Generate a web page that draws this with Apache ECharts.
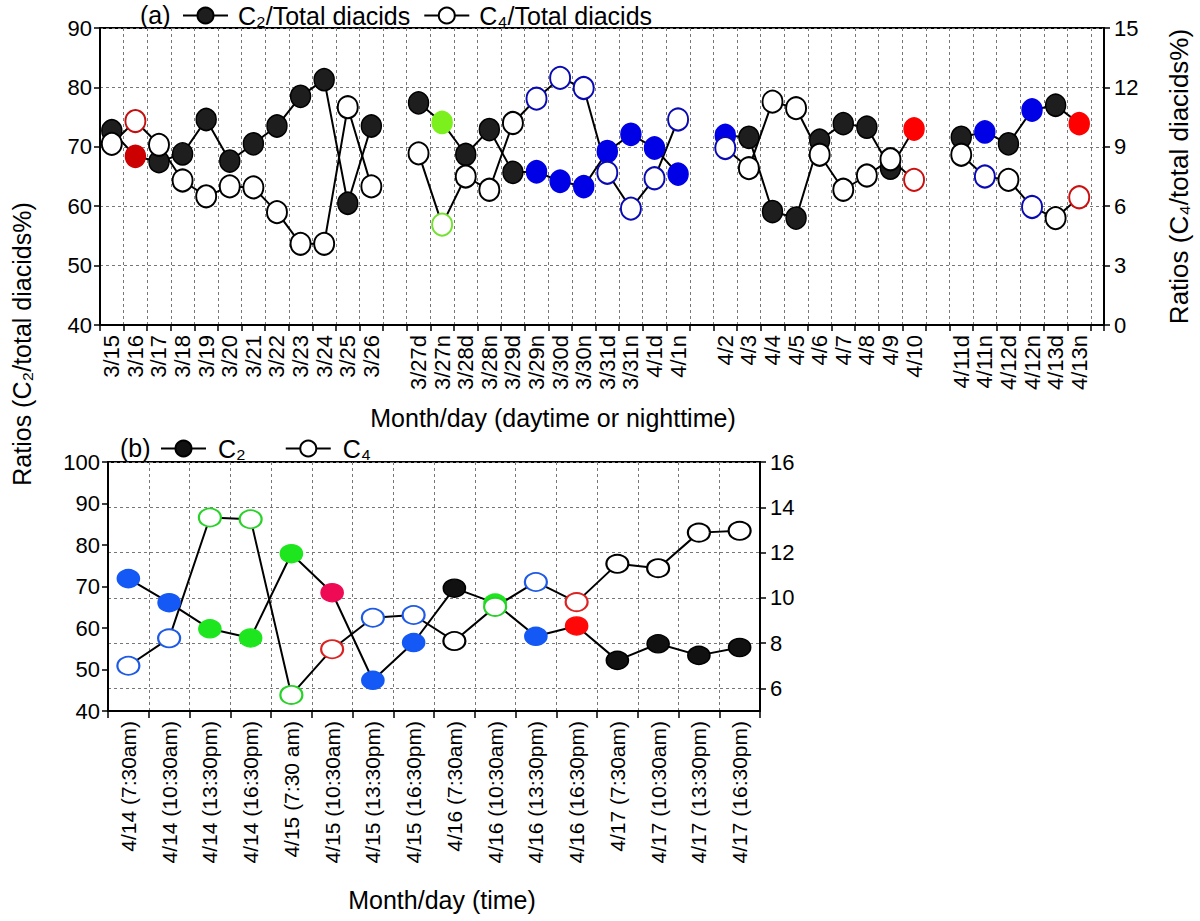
<!DOCTYPE html>
<html>
<head>
<meta charset="utf-8">
<script src="https://cdn.jsdelivr.net/npm/echarts@6/dist/echarts.min.js"></script>
<style>
  html, body { margin: 0; padding: 0; background: #fff; }
  #chart { width: 1200px; height: 921px; }
</style>
</head>
<body>
<div id="chart"></div>
<script>
// ---- panel (a): one slot per sample, '' / null = empty slot between periods
var catsA = ['3/15','3/16','3/17','3/18','3/19','3/20','3/21','3/22','3/23','3/24','3/25','3/26','',
  '3/27d','3/27n','3/28d','3/28n','3/29d','3/29n','3/30d','3/30n','3/31d','3/31n','4/1d','4/1n','',
  '4/2','4/3','4/4','4/5','4/6','4/7','4/8','4/9','4/10','',
  '4/11d','4/11n','4/12d','4/12n','4/13d','4/13n'];
var c2A = [72.7, 68.4, 67.5, 68.8, 74.6, 67.6, 70.5, 73.5, 78.5, 81.3, 60.5, 73.5, null,
  77.4, 74.1, 68.7, 72.9, 65.7, 65.8, 64.2, 63.3, 69.2, 72.1, 69.8, 65.4, null,
  71.9, 71.6, 59.1, 58.0, 71.1, 73.9, 73.3, 66.4, 73.0, null,
  71.6, 72.5, 70.5, 76.2, 77.0, 73.9];
var c4A = [9.15, 10.3, 9.1, 7.3, 6.5, 7.0, 6.95, 5.7, 4.1, 4.1, 11.0, 7.0, null,
  8.67, 5.07, 7.5, 6.83, 10.2, 11.43, 12.48, 11.97, 7.69, 5.88, 7.41, 10.38, null,
  8.94, 7.92, 11.28, 10.95, 8.6, 6.83, 7.55, 8.37, 7.33, null,
  8.6, 7.5, 7.33, 5.96, 5.4, 6.45];
// marker colour key per slot (k = black)
var keyA = ['k','dr','k','k','k','k','k','k','k','k','k','k','',
  'k','lime','k','k','k','b','b','b','b','b','b','b','',
  'b','k','k','k','k','k','k','k','r','',
  'k','b','k','b','k','r'];

// ---- panel (b)
var catsB = ['4/14 (7:30am)','4/14 (10:30am)','4/14 (13:30pm)','4/14 (16:30pm)',
  '4/15 (7:30 am)','4/15 (10:30am)','4/15 (13:30pm)','4/15 (16:30pm)',
  '4/16 (7:30am)','4/16 (10:30am)','4/16 (13:30pm)','4/16 (16:30pm)',
  '4/17 (7:30am)','4/17 (10:30am)','4/17 (13:30pm)','4/17 (16:30pm)'];
var c2B = [71.9, 66.1, 59.8, 57.6, 77.9, 68.5, 47.4, 56.5, 69.6, 66.0, 58.0, 60.5, 52.2, 56.2, 53.4, 55.3];
var c4B = [7.0, 8.21, 13.55, 13.47, 5.71, 7.73, 9.12, 9.24, 8.09, 9.6, 10.7, 9.81, 11.5, 11.31, 12.88, 12.96];
var keyB = ['b','b','g','g','g','p','b','b','k','g','b','r','k','k','k','k'];

var fillA = { k: '#1e1e1e', dr: '#cc0000', lime: '#7cf01c', b: '#0000e6', r: '#ff0000' };
var ringA = { k: '#000000', dr: '#c41010', lime: '#74e030', b: '#0a0ab4', r: '#cc1010' };
var fillB = { k: '#111111', b: '#1458f5', g: '#1ee61e', p: '#ee0a55', r: '#ff0808' };
var ringB = { k: '#000000', b: '#1e5ae6', g: '#28d228', p: '#dd2222', r: '#dd2222' };

var FONT = '"Liberation Sans", Arial, Helvetica, sans-serif';

function filledA(v, i) {
  if (v == null) return [i, '-'];
  var c = fillA[keyA[i]];
  return { value: [i, v], itemStyle: { color: c, borderColor: keyA[i] === 'k' ? '#000' : c } };
}
function openA(v, i) {
  if (v == null) return [i, '-'];
  return { value: [i, v], itemStyle: { color: '#fff', borderColor: ringA[keyA[i]] } };
}
function filledB(v, i) {
  var c = fillB[keyB[i]];
  return { value: v, itemStyle: { color: c, borderColor: keyB[i] === 'k' ? '#000' : c } };
}
function openB(v, i) {
  return { value: v, itemStyle: { color: '#fff', borderColor: ringB[keyB[i]] } };
}

var labelIdxA = [];
catsA.forEach(function (c, i) { if (c) labelIdxA.push(i); });

var tickLabel = { color: '#000', fontSize: 22, fontFamily: FONT };
var blackLine = { show: true, onZero: false, lineStyle: { color: '#000', width: 2 } };
var outTick = { show: true, inside: false, length: 6, lineStyle: { color: '#000', width: 1.5 } };
var dashGrid = { show: true, lineStyle: { color: '#777', width: 1, type: [3, 3] } };

var chart = echarts.init(document.getElementById('chart'), null, { renderer: 'svg' });
chart.setOption({
  animation: false,
  backgroundColor: '#fff',
  textStyle: { fontFamily: FONT },
  graphic: [
    { type: 'text', x: 140, y: 15, style: { text: '(a)', fontSize: 25, fontFamily: FONT, fill: '#000', verticalAlign: 'middle' } },
    { type: 'text', x: 120, y: 448, style: { text: '(b)', fontSize: 25, fontFamily: FONT, fill: '#000', verticalAlign: 'middle' } },
    { type: 'text', x: 22, y: 344, rotation: Math.PI / 2,
      style: { text: 'Ratios (C\u2082/total diacids%)', fontSize: 25, fontFamily: FONT, fill: '#000', align: 'center', verticalAlign: 'middle' } }
  ],
  legend: [
    { left: 182, top: 3, padding: 0, itemWidth: 45, itemHeight: 20, itemGap: 13,
      data: ['C\u2082/Total diacids', 'C\u2084/Total diacids'],
      textStyle: { fontSize: 25, color: '#000', fontFamily: FONT, padding: [0, 0, 0, 5] } },
    { left: 160, top: 436, padding: 0, itemWidth: 45, itemHeight: 20, itemGap: 39,
      data: ['C\u2082', 'C\u2084'],
      textStyle: { fontSize: 25, color: '#000', fontFamily: FONT, padding: [0, 0, 0, 7] } }
  ],
  grid: [
    { left: 100, top: 28, width: 1005, height: 297, show: true, borderColor: '#000', borderWidth: 2 },
    { left: 108, top: 462, width: 652, height: 249, show: true, borderColor: '#000', borderWidth: 2 }
  ],
  xAxis: [
    { type: 'value', gridIndex: 0, min: -0.5, max: 42.05, interval: 1,
      axisLine: blackLine, axisTick: outTick, splitLine: dashGrid,
      axisLabel: { customValues: labelIdxA, rotate: 90, margin: 10, fontSize: 22, color: '#000', fontFamily: FONT,
        formatter: function (v) { return catsA[Math.round(v)]; } },
      name: 'Month/day (daytime or nighttime)', nameLocation: 'middle', nameGap: 80,
      nameTextStyle: { fontSize: 25, color: '#000', fontFamily: FONT, padding: [0, 98, 0, 0] } },
    { type: 'category', gridIndex: 1, data: catsB, boundaryGap: true,
      axisLine: blackLine,
      axisTick: { show: true, inside: false, length: 7, interval: 0, lineStyle: { color: '#000', width: 1.5 } },
      splitLine: { show: true, interval: 0, lineStyle: { color: '#777', width: 1, type: [3, 3] } },
      axisLabel: { interval: 0, rotate: 90, margin: 10, fontSize: 21, color: '#000', fontFamily: FONT },
      name: 'Month/day (time)', nameLocation: 'middle', nameGap: 176,
      nameTextStyle: { fontSize: 25, color: '#000', fontFamily: FONT, padding: [0, 0, 0, 16] } }
  ],
  yAxis: [
    { type: 'value', gridIndex: 0, min: 40, max: 90, interval: 10,
      axisLine: blackLine, axisTick: outTick, splitLine: dashGrid,
      axisLabel: Object.assign({ margin: 8 }, tickLabel) },
    { type: 'value', gridIndex: 0, position: 'right', min: 0, max: 15, interval: 3,
      axisLine: blackLine, axisTick: outTick, splitLine: { show: false },
      axisLabel: Object.assign({ margin: 10 }, tickLabel),
      name: 'Ratios (C\u2084/total diacids%)', nameLocation: 'middle', nameRotate: 90, nameGap: 62,
      nameTextStyle: { fontSize: 26, color: '#000', fontFamily: FONT } },
    { type: 'value', gridIndex: 1, min: 40, max: 100, interval: 10,
      axisLine: blackLine, axisTick: outTick, splitLine: { show: false },
      axisLabel: Object.assign({ margin: 8 }, tickLabel) },
    { type: 'value', gridIndex: 1, position: 'right', min: 5, max: 16, splitNumber: 5,
      axisLine: blackLine, axisTick: outTick, splitLine: dashGrid,
      axisLabel: Object.assign({ margin: 10, showMinLabel: false }, tickLabel) }
  ],
  series: [
    { name: 'C\u2082/Total diacids', type: 'line', xAxisIndex: 0, yAxisIndex: 0,
      symbol: 'circle', symbolSize: [20, 22], connectNulls: false,
      lineStyle: { color: '#000', width: 2 },
      itemStyle: { color: '#1e1e1e', borderColor: '#000', borderWidth: 1.5 },
      data: c2A.map(filledA) },
    { name: 'C\u2084/Total diacids', type: 'line', xAxisIndex: 0, yAxisIndex: 1,
      symbol: 'circle', symbolSize: [20, 22], connectNulls: false,
      lineStyle: { color: '#000', width: 2 },
      itemStyle: { color: '#fff', borderColor: '#000', borderWidth: 2 },
      data: c4A.map(openA) },
    { name: 'C\u2082', type: 'line', xAxisIndex: 1, yAxisIndex: 2,
      symbol: 'circle', symbolSize: [22, 18],
      lineStyle: { color: '#000', width: 2 },
      itemStyle: { color: '#111', borderColor: '#000', borderWidth: 1.5 },
      data: c2B.map(filledB) },
    { name: 'C\u2084', type: 'line', xAxisIndex: 1, yAxisIndex: 3,
      symbol: 'circle', symbolSize: [22, 18],
      lineStyle: { color: '#000', width: 2 },
      itemStyle: { color: '#fff', borderColor: '#000', borderWidth: 2 },
      data: c4B.map(openB) }
  ]
});
</script>
</body>
</html>
